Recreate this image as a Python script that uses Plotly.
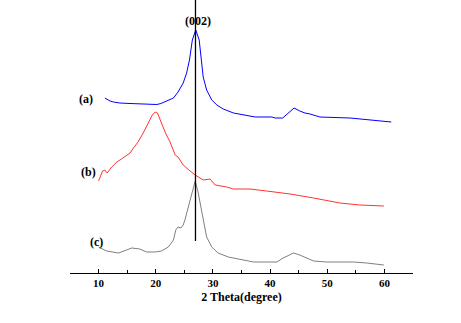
import plotly.graph_objects as go

# XRD patterns: 2-theta (degree) vs. offset intensity (a.u.)
two_theta_a = [11.1, 12.0, 12.6, 13.7, 15.5, 17.2, 19.0, 20.2, 20.9, 21.6, 22.3, 23.1, 23.9,
               24.8, 25.4, 25.9, 26.4, 27.0, 27.6, 28.0, 28.3, 28.9, 29.8, 30.7, 31.8,
               33.6, 35.3, 37.4, 40.3, 40.9, 42.2, 43.2, 44.2, 45.2, 46.1, 47.0, 48.7,
               54.0, 58.7, 61.2]
intensity_a = [175, 172, 171, 170, 169.5, 169, 168.5, 168.5, 169.5, 171, 173, 175, 181,
               190, 200, 213, 233, 243, 233, 213, 196, 183, 173, 168, 164,
               160, 158, 156, 156, 155, 155, 160, 165, 162, 160, 159, 156,
               155, 152, 151]

two_theta_b = [10.0, 10.7, 11.1, 11.5, 12.3, 13.2, 14.0, 14.9, 15.5, 16.1, 16.9, 17.8,
               18.7, 19.4, 19.9, 20.3, 21.0, 21.7, 22.5, 23.4, 23.9, 24.8, 25.8, 26.9,
               28.3, 29.5, 30.4, 32.4, 33.6, 36.5, 39.4, 43.5, 47.6, 52.2, 55.7, 59.9]
intensity_b = [92, 102, 103, 100, 106, 111, 114, 118, 120, 125, 131, 140,
               150, 158, 161, 160, 150, 140, 131, 118, 116, 108, 103, 98,
               93, 94, 88, 86, 84, 84, 82, 79, 75, 70, 68, 67]

two_theta_c = [10.0, 11.4, 13.5, 15.8, 17.2, 18.4, 19.9, 21.0, 22.2, 23.1, 23.5, 23.9,
               24.4, 24.8, 25.1, 25.7, 26.3, 26.9, 27.4, 27.9, 28.3, 28.9, 29.8, 30.9,
               32.7, 35.0, 37.1, 41.2, 42.3, 44.1, 45.2, 47.6, 49.9, 52.8, 54.6, 56.9, 59.9]
intensity_c = [26, 22, 20, 25, 24, 21, 21, 22, 26, 33, 43, 46,
               45, 48, 53, 66, 80, 92, 81, 66, 50, 36, 26, 20,
               16, 13, 11, 11, 15, 20, 18, 12, 11, 11, 11, 10, 8]

labels = ["(a)", "(b)", "(c)"]
label_x = [7.8, 8.2, 9.55]
label_y = [174, 101, 31]

peak_label = "(002)"
peak_position = 26.95

x_ticks = [10, 20, 30, 40, 50, 60]
x_minor = [5, 15, 25, 35, 45, 55, 65]

font_family = "Liberation Serif"

fig = go.Figure()
for xs, ys, color in [(two_theta_a, intensity_a, "#0000ff"),
                      (two_theta_b, intensity_b, "#ff3333"),
                      (two_theta_c, intensity_c, "#7f7f7f")]:
    fig.add_trace(go.Scatter(x=xs, y=ys, mode="lines",
                             line=dict(color=color, width=1), showlegend=False,
                             hoverinfo="skip"))

# reference line through the graphite (002) reflection
fig.add_shape(type="line", xref="x", yref="y", x0=peak_position, x1=peak_position,
              y0=32, y1=273, line=dict(color="black", width=1.3))
fig.add_annotation(x=peak_position + 0.45, y=252, text="<b>%s</b>" % peak_label,
                   showarrow=False, font=dict(family=font_family, size=12, color="black"))

for text, lx, ly in zip(labels, label_x, label_y):
    fig.add_annotation(x=lx, y=ly, text="<b>%s</b>" % text, showarrow=False,
                       font=dict(family=font_family, size=12, color="black"))

fig.update_xaxes(range=[5, 65], showline=True, linecolor="black", linewidth=1,
                 ticks="inside", ticklen=4, tickcolor="black", tickwidth=1,
                 tickvals=x_ticks, ticktext=["<b>%d</b>" % t for t in x_ticks],
                 tickfont=dict(family=font_family, size=11, color="black"),
                 minor=dict(tickvals=x_minor, ticks="inside", ticklen=3,
                            tickcolor="black", tickwidth=1),
                 showgrid=False, zeroline=False,
                 title=dict(text="<b>2 Theta(degree)</b>", standoff=4,
                            font=dict(family=font_family, size=12, color="black")))
fig.update_yaxes(range=[0, 273], visible=False, showgrid=False, zeroline=False)

fig.update_layout(width=461, height=323, margin=dict(l=70, r=48, t=0, b=50),
                  plot_bgcolor="white", paper_bgcolor="white")

fig.write_html("out.html")
